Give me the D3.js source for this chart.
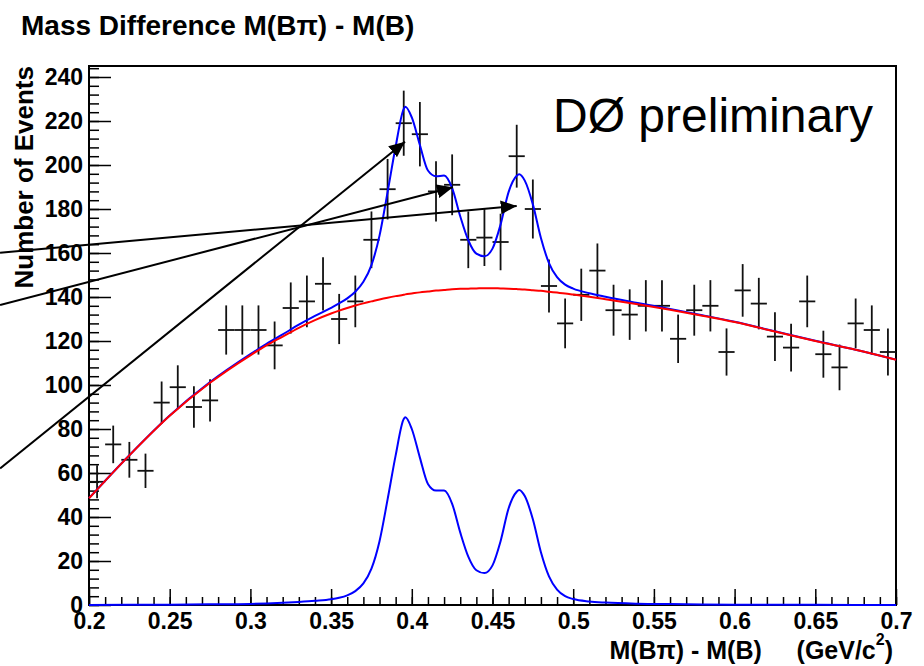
<!DOCTYPE html>
<html><head><meta charset="utf-8">
<script src="https://cdn.jsdelivr.net/npm/d3@7"></script>
<style>
body{margin:0;background:#fff}
text{font-family:"Liberation Sans",Arial,Helvetica,sans-serif}
</style>
</head><body>
<svg id="c" width="924" height="666"></svg>
<script>
// ---- data ----
const binStart = 0.2, binWidth = 0.01;
const counts = [56,73,66,61,92,99,90,93,125,125,125,118,135,138,146,130,138,166,189,219,
                214,188,191,166,167,165,204,180,145,128,141,152,134,132,136,136,121,134,136,115,
                143,137,122,117,138,114,108,128,125,115];
const curveX = [0.200,0.225,0.250,0.275,0.300,0.310,0.320,0.330,0.340,0.350,0.355,0.360,0.365,0.370,0.375,
                0.380,0.385,0.390,0.395,0.396,0.400,0.405,0.410,0.415,0.420,0.425,0.430,0.435,0.440,0.445,
                0.450,0.455,0.460,0.465,0.4665,0.470,0.475,0.480,0.485,0.490,0.495,0.500,0.510,0.520,0.540,
                0.560,0.580,0.600,0.625,0.650,0.675,0.700];
const background = [48.5,68,86,101,113.5,118,122,126,129.5,132.5,133.8,135,136.1,137.1,138,
                138.9,139.7,140.4,141,141.2,141.6,142.1,142.5,142.9,143.2,143.5,143.7,143.8,143.9,144,
                144,143.9,143.8,143.6,143.5,143.4,143.1,142.8,142.4,142,141.6,141.1,140.1,139,136.7,
                134.2,131.5,128.6,124.3,120,116,111.5];
const signal = [0.05,0.1,0.15,0.3,0.5,0.7,1.0,1.4,1.9,2.6,3.3,4.4,6.3,9.8,16.5,
                29,48,68,84.5,85.3,80,67,55,52,52,46,33,22,15.8,14.5,
                18,29,44,51.5,52.3,49.5,39,24,13,7,4,2.7,1.6,1.1,0.6,
                0.4,0.25,0.15,0.1,0.07,0.05,0.04];
const xTicks = [0.2,0.25,0.3,0.35,0.4,0.45,0.5,0.55,0.6,0.65,0.7];
const xTickLabels = ["0.2","0.25","0.3","0.35","0.4","0.45","0.5","0.55","0.6","0.65","0.7"];
const yTicks = [0,20,40,60,80,100,120,140,160,180,200,220,240];
const arrowFrom = [[0.1449,62.1],[0.1449,136.4],[0.1449,160.1]];
const arrowTo   = [[0.3958,210.6],[0.4255,189.9],[0.4650,181.4]];

// ---- layout ----
const W = 924, H = 666;
const L = 89, R = 896, T = 66, B = 605;
const svg = d3.select("#c");
svg.append("rect").attr("width",W).attr("height",H).attr("fill","#fff");

const x = d3.scaleLinear().domain([0.2,0.7]).range([L,R]);
const y = d3.scaleLinear().domain([0,245]).range([B,T]);

// title
svg.append("text").attr("x",21).attr("y",35)
  .attr("font-size",28).attr("font-weight","bold").text("Mass Difference M(B\u03C0) - M(B)");

// axes
const yMinor = d3.range(0,245,4);
svg.append("g").attr("transform",`translate(${L},0)`)
  .call(d3.axisLeft(y).tickValues(yMinor).tickSize(-10).tickSizeOuter(0).tickFormat(""))
  .call(g=>g.select(".domain").remove())
  .call(g=>g.selectAll("line").attr("stroke","#000").attr("stroke-width",1.5));
svg.append("g").attr("transform",`translate(${L},0)`)
  .call(d3.axisLeft(y).tickValues(yTicks).tickSize(-22).tickSizeOuter(0).tickPadding(6))
  .call(g=>g.select(".domain").remove())
  .call(g=>g.selectAll("line").attr("stroke","#000").attr("stroke-width",1.5))
  .call(g=>g.selectAll("text").attr("font-size",23).attr("font-weight","bold")
        .attr("fill","#000").style("font-family",'"Liberation Sans",Arial,sans-serif'));

const xMinor = d3.range(0,51).map(i=>0.2+i*0.01);
svg.append("g").attr("transform",`translate(0,${B})`)
  .call(d3.axisBottom(x).tickValues(xMinor).tickSize(-8).tickSizeOuter(0).tickFormat(""))
  .call(g=>g.select(".domain").remove())
  .call(g=>g.selectAll("line").attr("stroke","#000").attr("stroke-width",1.5));
svg.append("g").attr("transform",`translate(0,${B})`)
  .call(d3.axisBottom(x).tickValues(xTicks).tickSize(-16).tickSizeOuter(0).tickPadding(8)
        .tickFormat((d,i)=>xTickLabels[i]))
  .call(g=>g.select(".domain").remove())
  .call(g=>g.selectAll("line").attr("stroke","#000").attr("stroke-width",1.5))
  .call(g=>g.selectAll("text").attr("font-size",23).attr("font-weight","bold")
        .attr("fill","#000").style("font-family",'"Liberation Sans",Arial,sans-serif'));

// frame
svg.append("rect").attr("x",L).attr("y",T).attr("width",R-L).attr("height",B-T)
  .attr("fill","none").attr("stroke","#000").attr("stroke-width",2);

// axis titles
svg.append("text").attr("transform",`translate(33,${T}) rotate(-90)`)
  .attr("text-anchor","end").attr("font-size",26).attr("font-weight","bold")
  .text("Number of Events");
const xt = svg.append("text").attr("x",893).attr("y",659).attr("text-anchor","end")
  .attr("font-size",25).attr("font-weight","bold").style("white-space","pre");
xt.append("tspan").text("M(B\u03C0) - M(B)     (GeV/c");
xt.append("tspan").attr("font-size",16).attr("dy",-14).text("2");
xt.append("tspan").attr("dy",14).text(")");

// data points
const pts = svg.append("g").attr("stroke","#111").attr("stroke-width",1.8);
counts.forEach((v,i)=>{
  const lo = binStart + i*binWidth, hi = lo + binWidth, c = lo + binWidth/2;
  const e = Math.sqrt(v);
  pts.append("line").attr("x1",x(lo)).attr("x2",x(hi)).attr("y1",y(v)).attr("y2",y(v));
  pts.append("line").attr("x1",x(c)).attr("x2",x(c)).attr("y1",y(v-e)).attr("y2",y(v+e));
});

// curves
const line = d3.line().x(d=>x(d[0])).y(d=>y(d[1])).curve(d3.curveMonotoneX);
const totalPts = curveX.map((xv,i)=>[xv, background[i]+signal[i]]);
const bgPts = curveX.map((xv,i)=>[xv, background[i]]);
const sigPts = curveX.map((xv,i)=>[xv, signal[i]]);
svg.append("path").attr("d",line(totalPts)).attr("fill","none").attr("stroke","#0000ff").attr("stroke-width",2);
svg.append("path").attr("d",line(bgPts)).attr("fill","none").attr("stroke","#ff0000").attr("stroke-width",2);
svg.append("path").attr("d",line(sigPts)).attr("fill","none").attr("stroke","#0000ff").attr("stroke-width",2);

// arrows
const defs = svg.append("defs");
defs.append("marker").attr("id","ah").attr("viewBox","0 0 16 14")
  .attr("refX",16).attr("refY",7).attr("markerWidth",16).attr("markerHeight",14)
  .attr("markerUnits","userSpaceOnUse").attr("orient","auto")
  .append("path").attr("d","M0,0 L16,7 L0,14 Z").attr("fill","#000");
arrowFrom.forEach((f,i)=>{
  const t = arrowTo[i];
  svg.append("line").attr("x1",x(f[0])).attr("y1",y(f[1])).attr("x2",x(t[0])).attr("y2",y(t[1]))
    .attr("stroke","#000").attr("stroke-width",2).attr("marker-end","url(#ah)");
});

// label
svg.append("text").attr("x",553).attr("y",132).attr("font-size",48).text("D\u00D8 preliminary");
</script>
</body></html>
